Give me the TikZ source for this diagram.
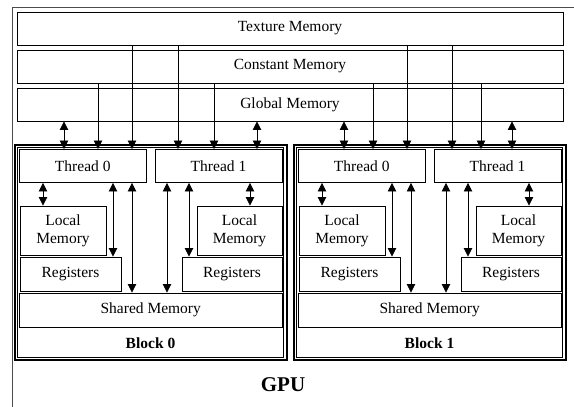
\documentclass[tikz,border=0pt]{standalone}
\usepackage{fontspec}
\setmainfont{Liberation Serif}
\usepackage{xcolor}
\usetikzlibrary{arrows.meta}
\tikzset{
  memBox/.style={draw=black, line width=0.9pt, inner sep=0pt, align=center, font=\fontsize{15.5}{18}\selectfont},
  blockOuter/.style={draw=black, line width=2pt},
  blockInner/.style={draw=black, line width=0.7pt},
  gpuFrame/.style={draw=black!70, line width=0.9pt},
  blockLbl/.style={font=\fontsize{15.5}{18}\selectfont\bfseries},
  gpuLbl/.style={font=\fontsize{21}{24}\selectfont\bfseries},
  biArrow/.style={draw=black, line width=0.8pt, {Triangle[width=8.5pt,length=8.5pt]}-{Triangle[width=8.5pt,length=8.5pt]}},
  downArrow/.style={draw=black, line width=0.8pt, -{Triangle[width=8.5pt,length=8.5pt]}},
}
% box from its corners: name, x1, y1, x2, y2, text
\newcommand{\BoxAt}[6]{%
  \node[memBox, minimum width={#4pt-#2pt}, minimum height={#5pt-#3pt}] (#1) at ({(#2+#4)/2},{(#3+#5)/2}) {#6};%
}
\begin{document}
\begin{tikzpicture}[x=1pt, y=-1pt]
  \useasboundingbox (0,0) rectangle (574,407);

  % GPU frame, cut off at the right and bottom
  \draw[gpuFrame] (12,420) |- (590,7);

  % Memory spaces
  \BoxAt{Tex}{17}{12}{563}{45}{Texture Memory}
  \BoxAt{Con}{17}{50}{563}{83}{Constant Memory}
  \BoxAt{Glo}{17}{88}{563}{121}{Global Memory}

  % Blocks
  \foreach \b/\dx in {0/0, 1/279}{
    \begin{scope}[xshift=\dx pt]
      \draw[blockOuter] (14.5,144.5) rectangle (286.5,360);
      \draw[blockInner] (17.5,147.5) rectangle (283.5,357);
      \BoxAt{T0-\b}{19.5}{149.5}{146}{182.5}{Thread 0}
      \BoxAt{T1-\b}{155}{149.5}{282}{182.5}{Thread 1}
      \BoxAt{L0-\b}{20}{206}{106}{255}{Local\\Memory}
      \BoxAt{R0-\b}{20}{257}{121}{291}{Registers}
      \BoxAt{L1-\b}{197}{206}{282}{255}{Local\\Memory}
      \BoxAt{R1-\b}{182}{257}{282}{291}{Registers}
      \BoxAt{S-\b}{19.5}{293}{282}{327}{Shared Memory}
      \node[blockLbl] (Blk-\b) at (150.5,343) {Block \b};

      % Thread <-> per-thread and shared memory
      \foreach \x/\thr/\dst in {43/T0/L0, 113/T0/R0, 132/T0/S, 167/T1/S, 189/T1/R1, 250/T1/L1}
        \draw[biArrow] (\thr-\b.south -| \x,0) -- (\dst-\b.north -| \x,0);
    \end{scope}
  }

  % Device memory -> threads
  \foreach \x/\src/\dst/\tip in {64/Glo/T0-0/biArrow, 98/Con/T0-0/downArrow, 132/Tex/T0-0/downArrow,
      178/Tex/T1-0/downArrow, 214/Con/T1-0/downArrow, 257/Glo/T1-0/biArrow,
      344/Glo/T0-1/biArrow, 373/Con/T0-1/downArrow, 407/Tex/T0-1/downArrow,
      452/Tex/T1-1/downArrow, 481/Con/T1-1/downArrow, 512/Glo/T1-1/biArrow}
    \draw[\tip] (\src.south -| \x,0) -- (\dst.north -| \x,0);

  \node[gpuLbl] (GPU) at (283,385) {GPU};
\end{tikzpicture}
\end{document}
